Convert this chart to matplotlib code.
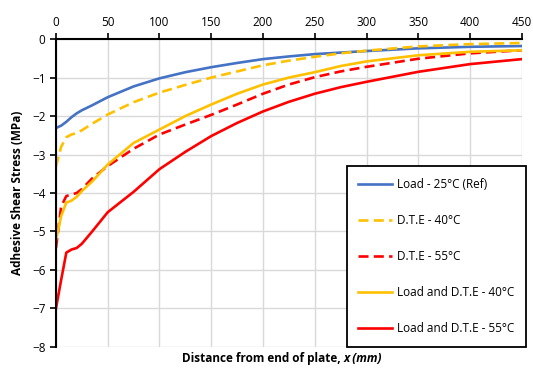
import matplotlib.pyplot as plt

plt.rcParams['font.family'] = ['Open Sans', 'DejaVu Sans']

# distance from end of plate (mm)
x = [0, 5, 10, 15, 20, 25, 35, 50, 75, 100, 125, 150, 175, 200, 225, 250, 275,
     300, 350, 400, 450]

load_25 = [-2.31, -2.25, -2.15, -2.03, -1.93, -1.85, -1.72, -1.51, -1.23, -1.02,
           -0.86, -0.73, -0.62, -0.52, -0.45, -0.39, -0.35, -0.31, -0.24, -0.2, -0.18]
dte_40 = [-3.31, -2.8, -2.55, -2.48, -2.44, -2.37, -2.2, -1.96, -1.64, -1.39,
          -1.19, -1.0, -0.84, -0.68, -0.56, -0.46, -0.37, -0.3, -0.19, -0.13, -0.1]
dte_55 = [-5.43, -4.35, -4.08, -4.04, -4.0, -3.9, -3.62, -3.3, -2.85, -2.48,
          -2.22, -1.97, -1.7, -1.42, -1.18, -0.99, -0.84, -0.72, -0.51, -0.37, -0.29]
load_dte_40 = [-5.22, -4.6, -4.25, -4.2, -4.1, -3.95, -3.7, -3.26, -2.7, -2.35,
               -2.0, -1.7, -1.42, -1.18, -1.0, -0.86, -0.7, -0.58, -0.42, -0.33, -0.29]
load_dte_55 = [-7.0, -6.26, -5.55, -5.47, -5.43, -5.32, -5.0, -4.5, -3.97, -3.38,
               -2.93, -2.52, -2.18, -1.88, -1.63, -1.42, -1.25, -1.11, -0.85, -0.65, -0.52]

labels = ['Load - 25°C (Ref)', 'D.T.E - 40°C', 'D.T.E - 55°C',
          'Load and D.T.E - 40°C', 'Load and D.T.E - 55°C']

fig = plt.figure(figsize=(5.33, 3.69), dpi=100)
ax = fig.add_axes([0.105, 0.06, 0.874, 0.834])

dash = (0, (3.8, 2.0))
ax.plot(x, load_25, color='#4472C4', lw=1.9, label=labels[0])
ax.plot(x, dte_40, color='#FFC000', lw=1.9, ls=dash, label=labels[1])
ax.plot(x, dte_55, color='#FF0000', lw=1.9, ls=dash, label=labels[2])
ax.plot(x, load_dte_40, color='#FFC000', lw=1.9, label=labels[3])
ax.plot(x, load_dte_55, color='#FF0000', lw=1.9, label=labels[4])

ax.set_xlim(0, 450)
ax.set_ylim(-8, 0)
ax.set_xticks(range(0, 451, 50))
ax.set_yticks(range(-8, 1))
ax.grid(True, color='#d9d9d9', lw=1)
ax.set_axisbelow(True)

# x axis sits on top, y axis on the left
ax.xaxis.tick_top()
for s in ['right', 'bottom']:
    ax.spines[s].set_visible(False)
for s in ['top', 'left']:
    ax.spines[s].set_linewidth(1.5)
ax.tick_params(axis='both', labelsize=8.5, length=4, width=1.2)

ax.set_ylabel('Adhesive Shear Stress (MPa)', fontsize=8.5, fontweight='bold', labelpad=6)

fig.text(0.645, 0.028, 'Distance from end of plate, ', fontsize=8.5,
         fontweight='bold', ha='right', va='center')
fig.text(0.645, 0.028, 'x (mm)', fontsize=8.5, fontweight='bold',
         style='italic', ha='left', va='center')

leg = ax.legend(loc='lower right', bbox_to_anchor=(1.01, 0.0), fontsize=8.5,
                labelspacing=1.95, handlelength=2.8, borderpad=1.0,
                fancybox=False, framealpha=1, edgecolor='black',
                handletextpad=0.5, borderaxespad=0.0)
leg.get_frame().set_linewidth(1.3)

fig.savefig('out.png', dpi=100)
